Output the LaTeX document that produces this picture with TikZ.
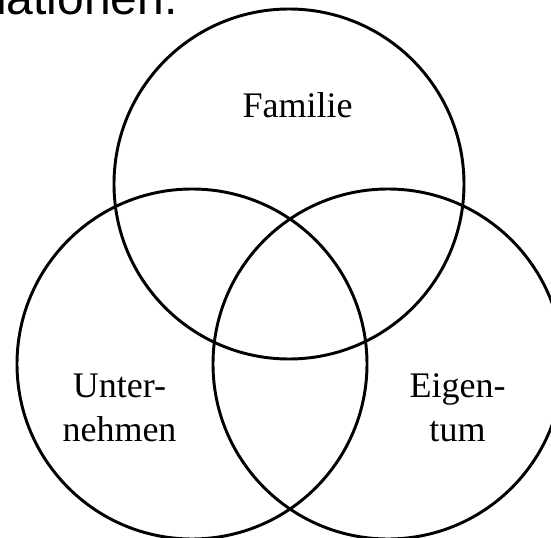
\documentclass[tikz,border=0pt]{standalone}
\usepackage{fontspec}
\setmainfont{Liberation Serif}
\newfontfamily\headfont{Liberation Sans}
\tikzset{
	ring/.style={line width=2.2pt, color=black},
	venntext/.style={inner sep=0pt, align=center, font=\fontsize{27}{33}\selectfont}
}

\begin{document}
\begin{tikzpicture}[x=0.75pt, y=0.75pt]
			%%%%% START %%%%%
			
			\useasboundingbox (0, 0) rectangle (551, 537);
			\clip (0, 0) rectangle (551, 537);
			\fill[white] (0, 0) rectangle (551, 537);
			
			\node[inner sep=0pt, anchor=base east, font=\headfont\fontsize{36}{40}\selectfont] (head) at (178, 522) {lationen.};
			
			\draw[ring] (289, 353) circle (175);
			\draw[ring] (192, 173) circle (175);
			\draw[ring] (388, 173) circle (175);
			
			\node[venntext, anchor=base] (familie) at (297.5, 420) {Familie};
			\node[venntext] (unternehmen) at (119.5, 129) {Unter-\\nehmen};
			\node[venntext] (eigentum) at (457.5, 129) {Eigen-\\tum};
			
			%%%%% END %%%%%
\end{tikzpicture}
\end{document}
